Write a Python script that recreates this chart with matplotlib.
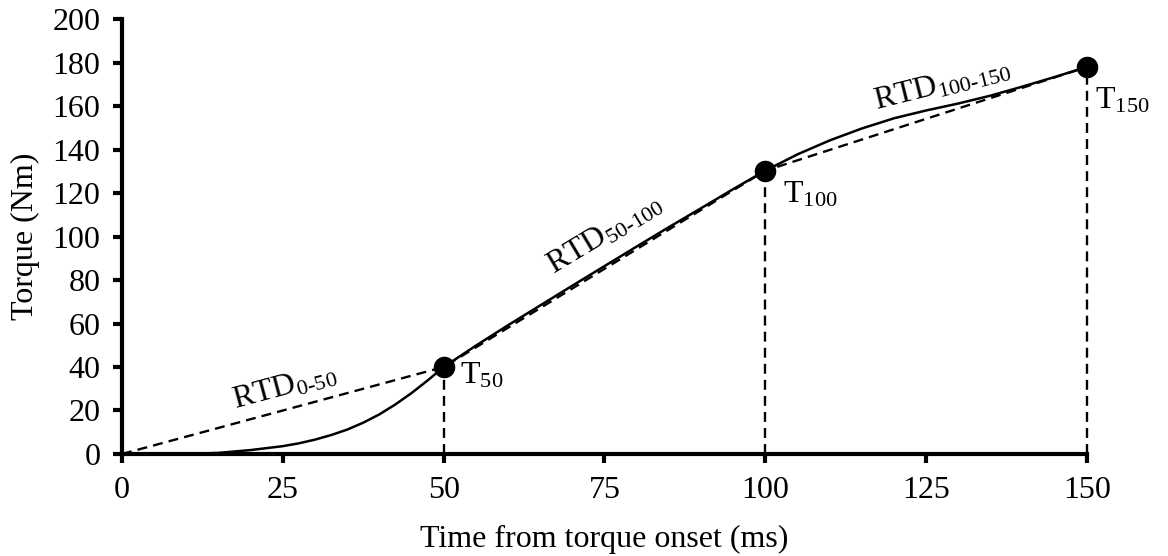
import matplotlib
matplotlib.use("Agg")
import matplotlib.pyplot as plt

plt.rcParams["font.family"] = ["Liberation Serif", "DejaVu Serif"]
plt.rcParams["mathtext.fontset"] = "custom"
plt.rcParams["mathtext.rm"] = "Liberation Serif"
plt.rcParams["mathtext.it"] = "Liberation Serif:italic"
plt.rcParams["mathtext.bf"] = "Liberation Serif:bold"

# Torque-time curve (ms, Nm)
time_ms = [0, 5, 10, 15, 20, 25, 27.5, 30, 32.5, 35, 37.5, 40, 42.5, 45, 47.5, 50,
           55, 60, 65, 70, 75, 80, 85, 90, 95, 100, 105, 110, 115, 120, 125,
           130, 135, 140, 145, 150]
torque_nm = [0, 0, 0, 0.5, 1.8, 3.6, 4.9, 6.6, 8.7, 11.2, 14.4, 18.2, 22.8, 28.0, 33.8, 40.0,
             49.8, 59.2, 68.3, 77.4, 86.4, 95.4, 104.3, 113.0, 121.8, 130.3, 137.8, 144.2,
             149.7, 154.4, 158.0, 161.2, 164.8, 169.0, 173.4, 178.0]

# Sampling instants and torque at those instants
mark_times = [50, 100, 150]
mark_torques = [40.0, 130.3, 178.0]
mark_labels = [r"T$_{\text{50}}$", r"T$_{\text{100}}$", r"T$_{\text{150}}$"]

# Rate of torque development segments
rtd_labels = [r"RTD$_{\text{0-50}}$", r"RTD$_{\text{50-100}}$", r"RTD$_{\text{100-150}}$"]
rtd_label_pos = [(25.3, 30.5), (75.0, 101.0), (127.5, 169.5)]
rtd_label_rot = [15, 31, 14]

x_ticks = [0, 25, 50, 75, 100, 125, 150]
y_ticks = [0, 20, 40, 60, 80, 100, 120, 140, 160, 180, 200]

FS = 23

fig = plt.figure(figsize=(11.68, 5.56), dpi=100)
ax = fig.add_axes([0.1045, 0.1835, 0.826, 0.782])

dash = (0, (4.2, 2.6))

# secant lines between sampling instants
seg_t = [0] + mark_times
seg_y = [0] + mark_torques
ax.plot(seg_t, seg_y, color="black", lw=1.7, linestyle=dash, zorder=2, clip_on=False)

# drop lines from each sample to the time axis
for t, y in zip(mark_times, mark_torques):
    ax.plot([t, t], [0, y], color="black", lw=1.7, linestyle=dash, zorder=2,
            clip_on=False)

ax.plot(time_ms, torque_nm, color="black", lw=1.8, zorder=3, clip_on=False)
ax.plot(mark_times, mark_torques, "o", color="black", markersize=14.5, zorder=4,
        clip_on=False)

label_offsets = [(12, 4), (13, -7), (6, -14)]
for t, y, lab, off in zip(mark_times, mark_torques, mark_labels, label_offsets):
    ax.annotate(lab, (t, y), xytext=off, textcoords="offset points",
                ha="left", va="top", fontsize=FS)

for lab, (tx, ty), rot in zip(rtd_labels, rtd_label_pos, rtd_label_rot):
    ax.text(tx, ty, lab, rotation=rot, rotation_mode="anchor",
            ha="center", va="center", fontsize=FS)

ax.set_xlim(0, 150)
ax.set_ylim(0, 200)
ax.set_xticks(x_ticks)
ax.set_yticks(y_ticks)
ax.tick_params(axis="both", direction="out", length=6.5, width=3,
               labelsize=FS, pad=9)

for side in ("top", "right"):
    ax.spines[side].set_visible(False)
for side in ("left", "bottom"):
    ax.spines[side].set_linewidth(3)

ax.set_xlabel("Time from torque onset (ms)", fontsize=FS, labelpad=15)
ax.set_ylabel("Torque (Nm)", fontsize=FS, labelpad=9)

fig.savefig("out.png", dpi=100)
